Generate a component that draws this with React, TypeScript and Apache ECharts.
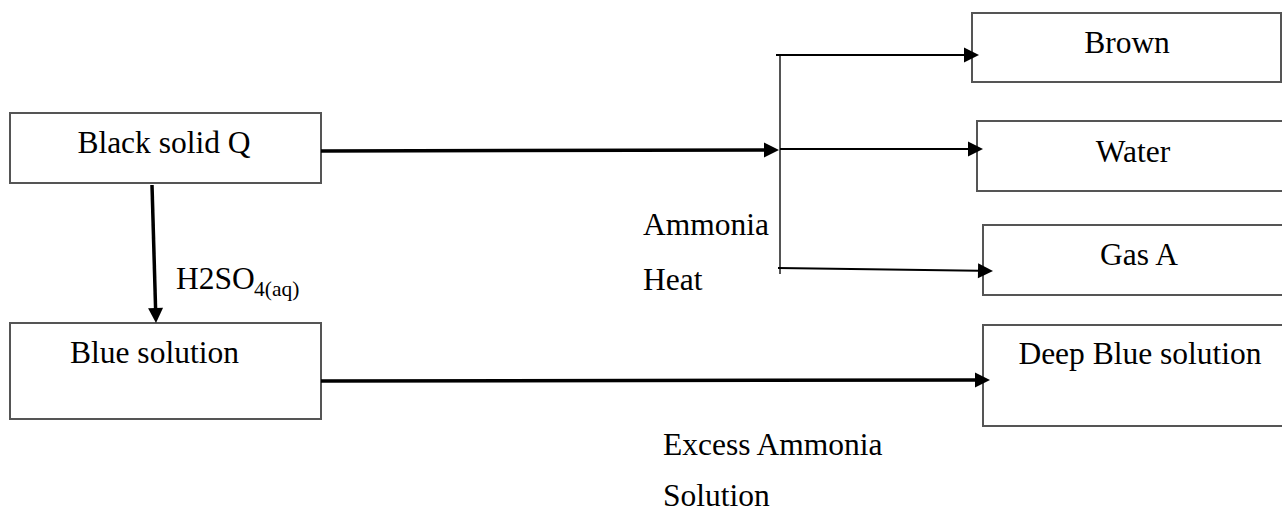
import React, { useEffect, useRef } from "react";
import * as echarts from "echarts";

// ---- content ----
const nodeLabels = ["Black solid Q", "Blue solution", "Brown", "Water", "Gas A", "Deep Blue solution"];
const reagentLabels = ["Ammonia", "Heat", "Excess Ammonia", "Solution"];
const acidMain = "H2SO";
const acidSub = "4(aq)";

// ---- layout (kept apart from content) ----
// boxes: [x, y, w, h]
const boxRects = [
  [10, 113, 311, 70],
  [10, 323, 311, 96],
  [972, 13, 309, 69],
  [977, 121, 320, 70],
  [983, 225, 320, 70],
  [983, 325, 320, 101],
];
// label anchor: [x, baseline, align]
const nodeLabelPos: [number, number, string][] = [
  [164, 153, "center"],
  [70, 363, "left"],
  [1127, 53, "center"],
  [1133, 162, "center"],
  [1139, 265, "center"],
  [1140, 364, "center"],
];
const reagentPos: [number, number][] = [
  [643, 235],
  [643, 290],
  [663, 455],
  [663, 506],
];
// arrows: [x1, y1, x2(tip), y2(tip), width]
const arrows = [
  [321, 151, 779, 150, 3.5],
  [152, 185, 156, 323, 3.5],
  [321, 381, 990, 380, 3.5],
  [776, 55, 979, 55, 2],
  [780, 149, 983, 149, 2],
  [778, 268, 993, 271, 2],
];
const bracket = [780, 55, 780, 274];

const FONT = "'Liberation Serif', 'Times New Roman', serif";
const FS = 31.5;

function textAt(text: string, x: number, baseline: number, size: number, align: string) {
  return {
    type: "text",
    x,
    y: baseline - 0.3375 * size,
    style: {
      text,
      fontSize: size,
      fontFamily: FONT,
      fill: "#000",
      align,
      verticalAlign: "middle",
    },
  };
}

function arrowEls(a: number[]) {
  const [x1, y1, x2, y2, w] = a;
  const dx = x2 - x1;
  const dy = y2 - y1;
  const len = Math.sqrt(dx * dx + dy * dy);
  const ux = dx / len;
  const uy = dy / len;
  const hl = 15;
  const hw = 7.5;
  const bx = x2 - ux * hl;
  const by = y2 - uy * hl;
  return [
    {
      type: "line",
      shape: { x1, y1, x2: bx + ux * 1, y2: by + uy * 1 },
      style: { stroke: "#000", lineWidth: w },
    },
    {
      type: "polygon",
      shape: {
        points: [
          [bx - uy * hw, by + ux * hw],
          [x2, y2],
          [bx + uy * hw, by - ux * hw],
        ],
      },
      style: { fill: "#000" },
    },
  ];
}

export default function App() {
  const ref = useRef<HTMLDivElement>(null);
  useEffect(() => {
    if (!ref.current) return;
    const chart = echarts.init(ref.current, null, { renderer: "svg" });
    const elements: any[] = [];
    boxRects.forEach((r) => {
      elements.push({
        type: "rect",
        shape: { x: r[0], y: r[1], width: r[2], height: r[3] },
        style: { fill: "#fff", stroke: "#555", lineWidth: 2 },
      });
    });
    elements.push({
      type: "line",
      shape: { x1: bracket[0], y1: bracket[1], x2: bracket[2], y2: bracket[3] },
      style: { stroke: "#555", lineWidth: 2 },
    });
    arrows.forEach((a) => elements.push(...arrowEls(a)));
    nodeLabels.forEach((t, i) => {
      const p = nodeLabelPos[i];
      elements.push(textAt(t, p[0], p[1], FS, p[2]));
    });
    reagentLabels.forEach((t, i) => {
      const p = reagentPos[i];
      elements.push(textAt(t, p[0], p[1], FS, "left"));
    });
    elements.push(textAt(acidMain, 176, 289, FS, "left"));
    elements.push(textAt(acidSub, 254, 296, 21.5, "left"));

    chart.setOption({
      animation: false,
      backgroundColor: "#fff",
      graphic: { elements },
    });
    return () => chart.dispose();
  }, []);
  return (
    <div
      ref={ref}
      style={{ position: "absolute", left: 0, top: 0, width: 1282, height: 513, background: "#fff" }}
    />
  );
}
